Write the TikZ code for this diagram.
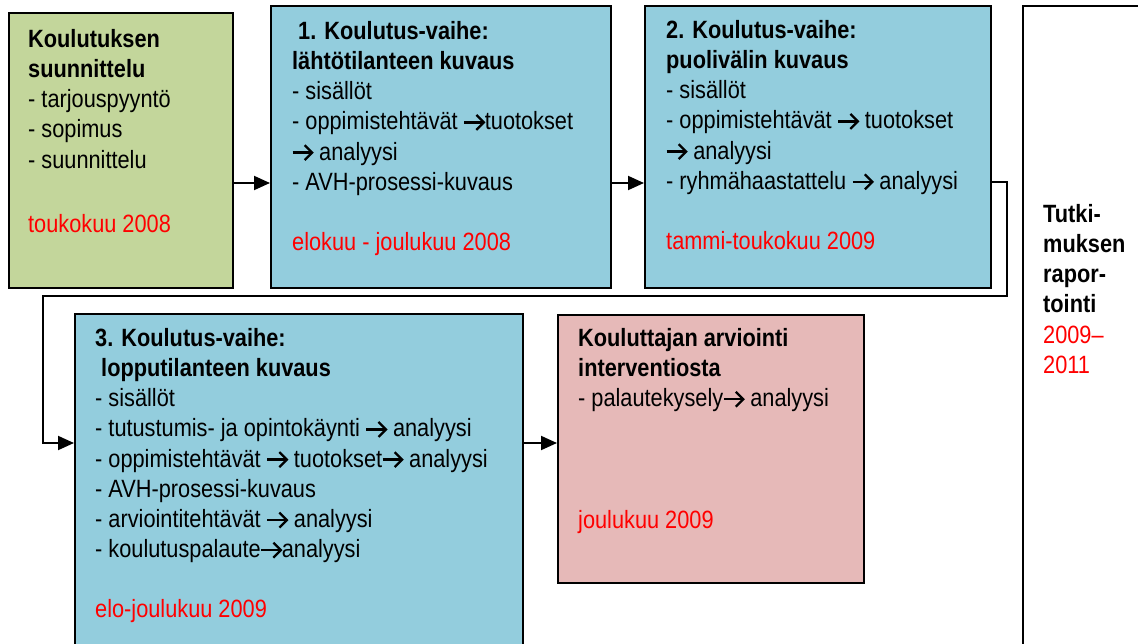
\documentclass[tikz,border=0pt]{standalone}
\usepackage{fontspec}
\usepackage{pict2e}
\setmainfont{Liberation Sans}[FakeStretch=0.87]
\usetikzlibrary{arrows.meta}

\definecolor{planfill}{HTML}{C3D69B}
\definecolor{phasefill}{HTML}{93CDDD}
\definecolor{reviewfill}{HTML}{E6B9B8}
\definecolor{datered}{HTML}{FF0000}

% arrow sign used inside the item lists
\newcommand{\rarr}{{\setlength{\unitlength}{1pt}\linethickness{2.3pt}%
  \begin{picture}(21,15)
    \put(0.5,7.5){\line(1,0){19}}
    \polyline(12.5,15)(20,7.5)(12.5,0)
  \end{picture}}}
% first-line strut so that text nodes can be placed by their first baseline
\newcommand{\firstline}{\rule{0pt}{18pt}}

\tikzset{
  panel/.style={draw=black, line width=2.2pt, inner sep=0pt, anchor=north west, rectangle},
  listtext/.style={anchor=north west, inner sep=0pt, align=left,
    font=\fontsize{25}{30.2}\selectfont},
  flow/.style={draw=black, line width=1.9pt,
    -{Triangle[length=16pt,width=14pt]}},
}

\begin{document}
\begin{tikzpicture}[x=1pt,y=-1pt]
\useasboundingbox (0,0) rectangle (1138,643);
\clip (0,0) rectangle (1138,643);

% boxes
\node[panel, fill=planfill,   minimum width=224pt, minimum height=275pt] (plan)   at (8,12)   {};
\node[panel, fill=phasefill,  minimum width=340pt, minimum height=282pt] (phase1) at (270,5)  {};
\node[panel, fill=phasefill,  minimum width=346pt, minimum height=282pt] (phase2) at (644,5)  {};
\node[panel, fill=white,      minimum width=160pt, minimum height=680pt] (report) at (1022,5) {};
\node[panel, fill=phasefill,  minimum width=448pt, minimum height=360pt] (phase3) at (74,313) {};
\node[panel, fill=reviewfill, minimum width=306pt, minimum height=268pt] (review) at (557,314) {};

% texts
\node[listtext] (plantext) at (28,47-18) {\firstline\textbf{Koulutuksen}\\
  \textbf{suunnittelu}\\
  - tarjouspyyntö\\
  - sopimus\\
  - suunnittelu\\[34pt]
  \textcolor{datered}{toukokuu 2008}};

\node[listtext] (phase1text) at (292,39-18) {\firstline\textbf{\ 1. Koulutus-vaihe:}\\
  \textbf{lähtötilanteen kuvaus}\\
  - sisällöt\\
  - oppimistehtävät \rarr tuotokset\\
  \rarr{} analyysi\\
  - AVH-prosessi-kuvaus\\[30pt]
  \textcolor{datered}{elokuu - joulukuu 2008}};

\node[listtext] (phase2text) at (666,38-18) {\firstline\textbf{2. Koulutus-vaihe:}\\
  \textbf{puolivälin kuvaus}\\
  - sisällöt\\
  - oppimistehtävät \rarr{} tuotokset\\
  \rarr{} analyysi\\
  - ryhmähaastattelu \rarr{} analyysi\\[30pt]
  \textcolor{datered}{tammi-toukokuu 2009}};

\node[listtext] (reporttext) at (1043,222-18) {\firstline\textbf{Tutki-}\\
  \textbf{muksen}\\
  \textbf{rapor-}\\
  \textbf{tointi}\\
  \textcolor{datered}{2009–}\\
  \textcolor{datered}{2011}};

\node[listtext] (phase3text) at (95,346-18) {\firstline\textbf{3. Koulutus-vaihe:}\\
  \textbf{\ lopputilanteen kuvaus}\\
  - sisällöt\\
  - tutustumis- ja opintokäynti \rarr{} analyysi\\
  - oppimistehtävät \rarr{} tuotokset\rarr{} analyysi\\
  - AVH-prosessi-kuvaus\\
  - arviointitehtävät \rarr{} analyysi\\
  - koulutuspalaute\rarr analyysi\\[30pt]
  \textcolor{datered}{elo-joulukuu 2009}};

\node[listtext] (reviewtext) at (578,346-18) {\firstline\textbf{Kouluttajan arviointi}\\
  \textbf{interventiosta}\\
  - palautekysely\rarr{} analyysi\\[92pt]
  \textcolor{datered}{joulukuu 2009}};

% connectors
\coordinate (turnA) at (1007,182);
\coordinate (turnB) at (1007,296);
\coordinate (turnC) at (43,296);
\coordinate (turnD) at (43,443);

\draw[flow] (plan.east |- 0,183) -- (phase1.west |- 0,183);
\draw[flow] (phase1.east |- 0,183) -- (phase2.west |- 0,183);
\draw[flow] (phase2.east |- turnA) -- (turnA) -- (turnB) -- (turnC) -- (turnD) -- (phase3.west |- turnD);
\draw[flow] (phase3.east |- 0,443) -- (review.west |- 0,443);

\end{tikzpicture}
\end{document}
